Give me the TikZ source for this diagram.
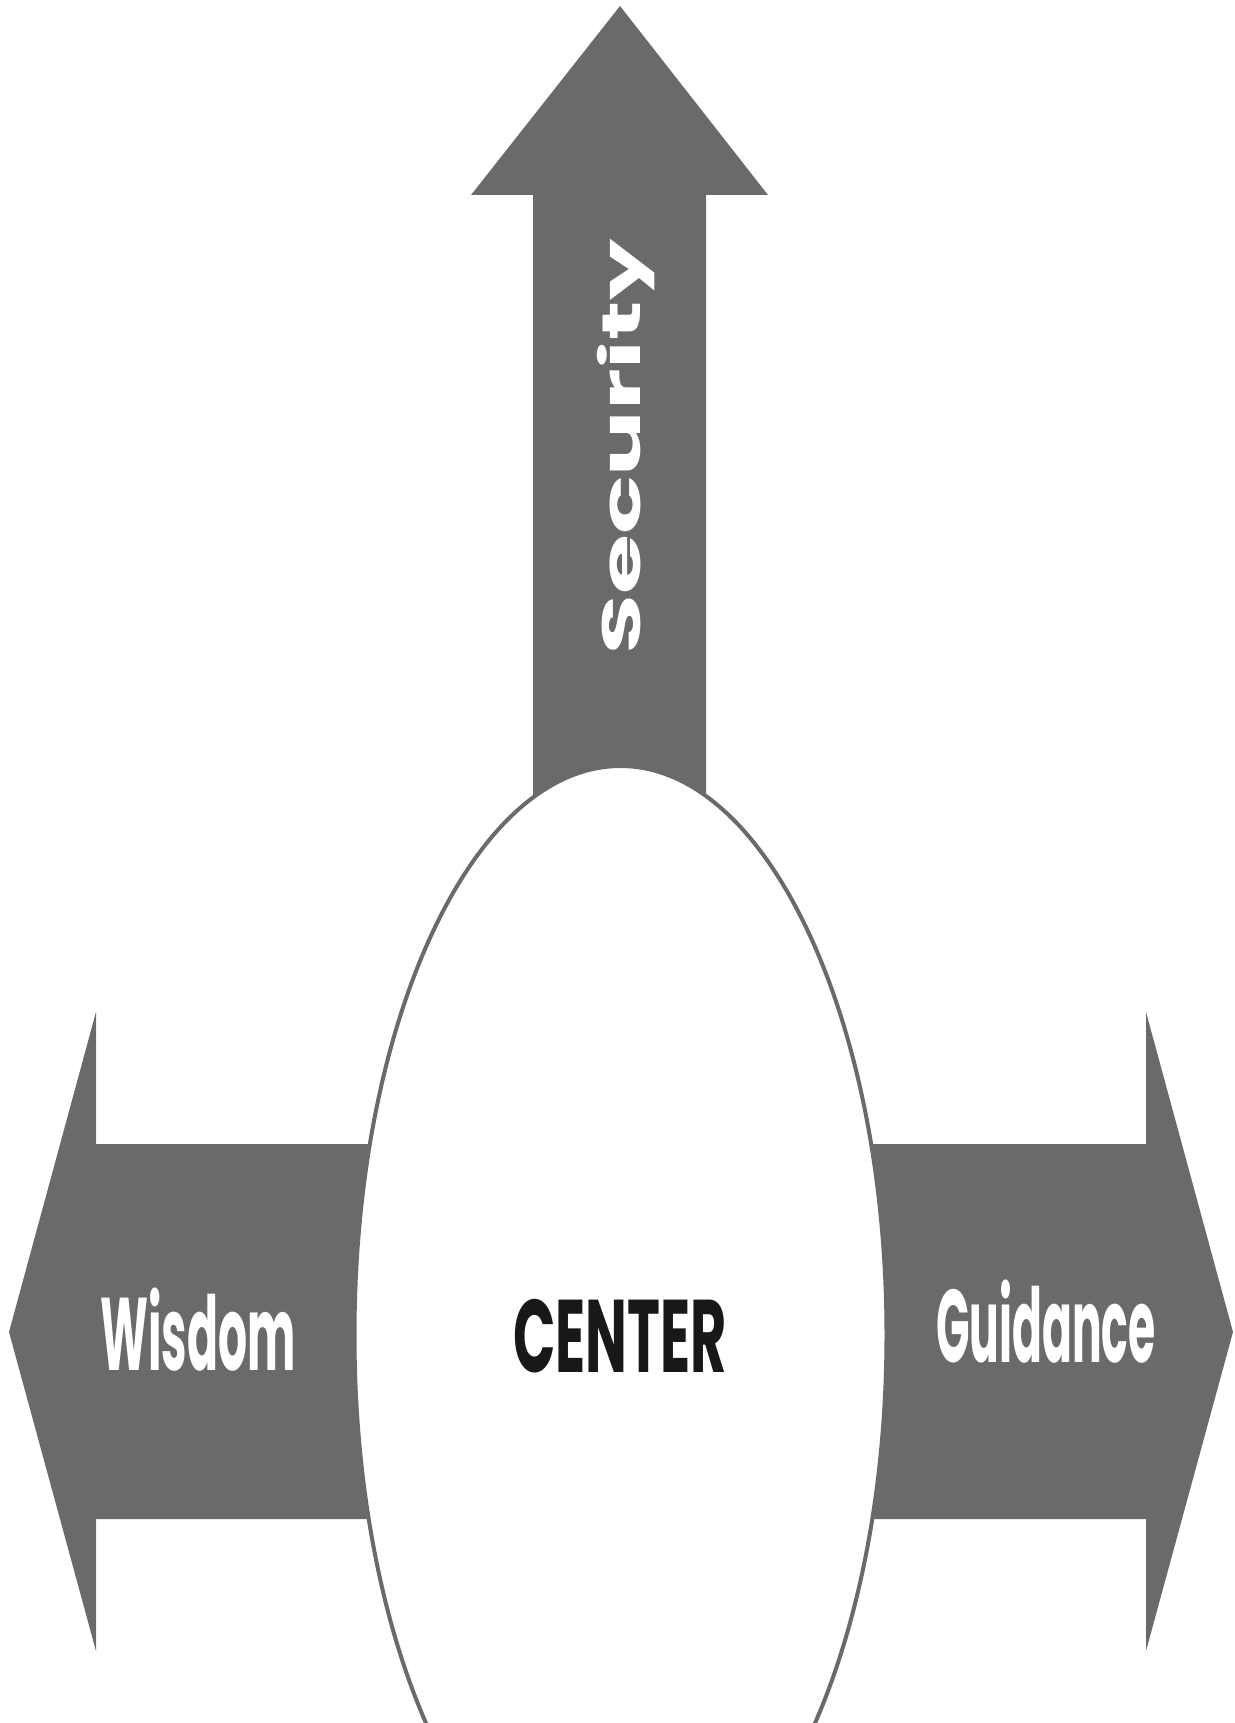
\documentclass[tikz,border=0pt]{standalone}
\usepackage{fontspec}
\setmainfont{Poppins}
\definecolor{arrowgray}{RGB}{106,106,106}
\definecolor{coretext}{RGB}{24,24,24}

\begin{document}
\begin{tikzpicture}[line cap=round,line join=round,x=1pt,y=-1pt,
		arrowshape/.style={fill=arrowgray,draw=none},
		lbl/.style={font=\fontsize{54}{54}\selectfont\bfseries,inner sep=0pt,anchor=base}]
				\clip (0,0) rectangle (1234,1723);
				% Security (up)
				\fill [arrowshape] (620,6) -- (768,195) -- (706,195) -- (706,1000) -- (533,1000) -- (533,195) -- (471,195) -- cycle;
				% Wisdom (left)
				\fill [arrowshape] (9,1332) -- (96,1012) -- (96,1144) -- (620,1144) -- (620,1519) -- (96,1519) -- (96,1651) -- cycle;
				% Guidance (right)
				\fill [arrowshape] (1233,1332) -- (1146,1012) -- (1146,1144) -- (620,1144) -- (620,1519) -- (1146,1519) -- (1146,1651) -- cycle;
				% center oval
				\draw [line width=4pt,draw=arrowgray,fill=white] (620.5,1335) ellipse (266 and 569);
				\node [lbl,text=white] (wisdom) at (198,1370) {\scalebox{0.845}[1.91]{Wisdom}};
				\node [lbl,text=coretext] (core) at (620,1372) {\scalebox{1.03}[1.91]{CENTER}};
				\node [lbl,text=white] (guidance) at (1046,1362) {\scalebox{0.815}[1.91]{Guidance}};
				\node [lbl,text=white,rotate=90] (security) at (640.5,447) {\scalebox{1.8}[1]{Security}};
			\end{tikzpicture}
\end{document}
